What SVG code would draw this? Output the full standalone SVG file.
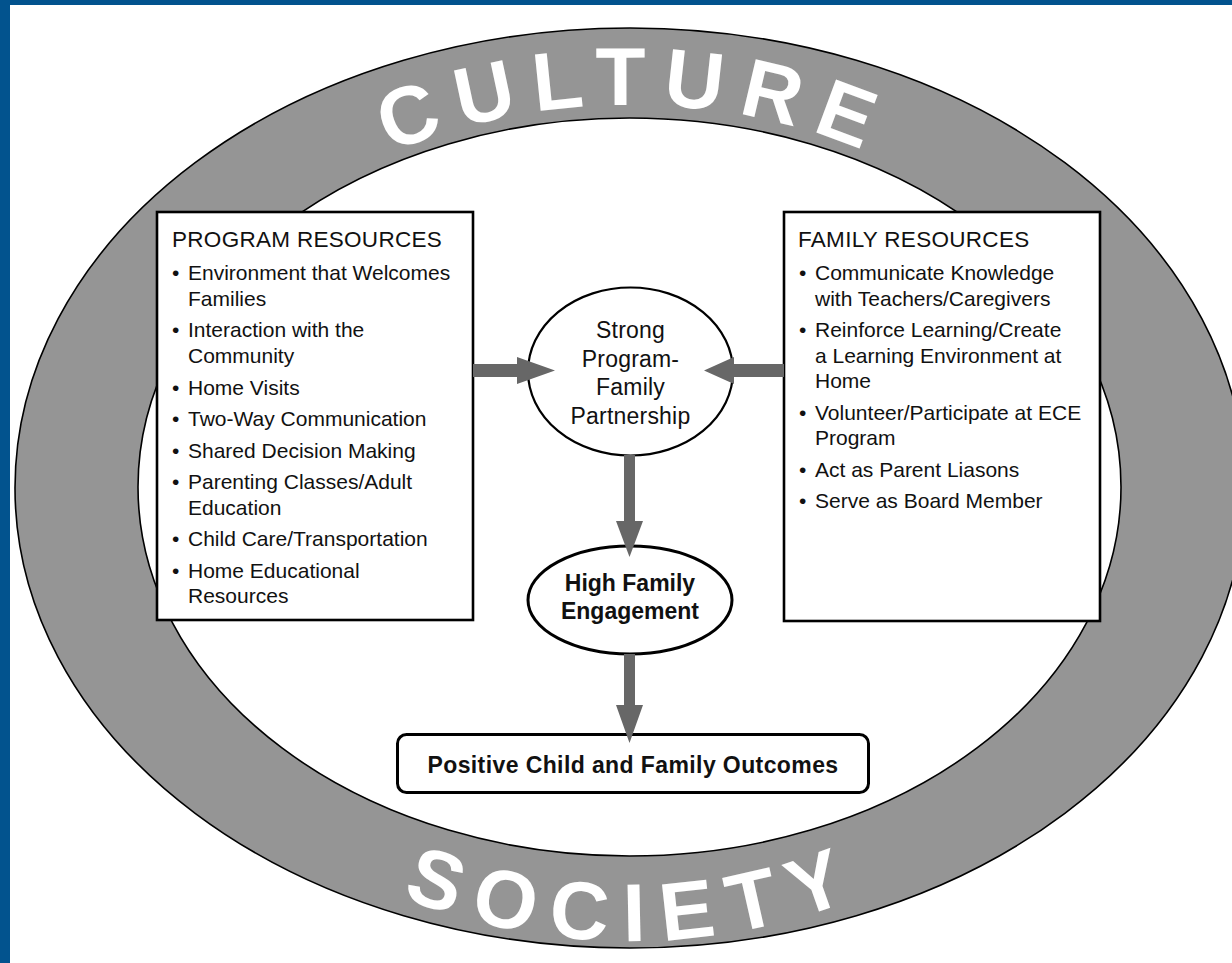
<svg xmlns="http://www.w3.org/2000/svg" width="1232" height="963" viewBox="0 0 1232 963">
<style>
.ring{fill:#959595;stroke:#000;stroke-width:1.6}
.hole{fill:#fff;stroke:#000;stroke-width:1.6}
.box{fill:#fff;stroke:#000;stroke-width:2.6}
.t{font-family:"Liberation Sans",Arial,Helvetica,sans-serif;font-size:21px;fill:#111}
.hd{font-size:22.5px;letter-spacing:0.3px}
.el{font-family:"Liberation Sans",Arial,Helvetica,sans-serif;font-size:23px;fill:#111;text-anchor:middle;letter-spacing:0.2px}
.b{font-family:"Liberation Sans",Arial,Helvetica,sans-serif;font-size:23px;font-weight:bold;fill:#111;text-anchor:middle}
.big{font-family:"Liberation Sans",Arial,Helvetica,sans-serif;font-size:82px;font-weight:bold;fill:#fff;letter-spacing:16.5px}
.arr{fill:#676767}
</style>
<defs>
<path id="topArc" d="M135,488 A495,383 0 0 1 1125,488"/>
<path id="botArc" d="M99,488 A531,453 0 0 0 1161,488"/>
</defs>
<rect x="0" y="0" width="1232" height="963" fill="#fff"/>
<rect x="0" y="0" width="1232" height="5" fill="#02538e"/>
<rect x="0" y="0" width="10" height="963" fill="#02538e"/>

<g id="culture-ring">
<ellipse class="ring" cx="630" cy="488" rx="615" ry="460"/>
<ellipse class="hole" cx="629.5" cy="487" rx="491.5" ry="369"/>
<text class="big" dx="4"><textPath href="#topArc" startOffset="50%" text-anchor="middle">CULTURE</textPath></text>
<text class="big" dx="4"><textPath href="#botArc" startOffset="50%" text-anchor="middle">SOCIETY</textPath></text>
</g>

<g id="program-resources">
<rect class="box" x="157" y="212" width="316" height="408"/>
<text class="t hd" x="172" y="247">PROGRAM RESOURCES</text>
<text class="t" x="172" y="280">•</text><text class="t" x="188" y="280">Environment that Welcomes</text>
<text class="t" x="188" y="305.5">Families</text>
<text class="t" x="172" y="337">•</text><text class="t" x="188" y="337">Interaction with the</text>
<text class="t" x="188" y="362.5">Community</text>
<text class="t" x="172" y="394.5">•</text><text class="t" x="188" y="394.5">Home Visits</text>
<text class="t" x="172" y="426">•</text><text class="t" x="188" y="426">Two-Way Communication</text>
<text class="t" x="172" y="457.5">•</text><text class="t" x="188" y="457.5">Shared Decision Making</text>
<text class="t" x="172" y="489">•</text><text class="t" x="188" y="489">Parenting Classes/Adult</text>
<text class="t" x="188" y="514.5">Education</text>
<text class="t" x="172" y="546">•</text><text class="t" x="188" y="546">Child Care/Transportation</text>
<text class="t" x="172" y="577.5">•</text><text class="t" x="188" y="577.5">Home Educational</text>
<text class="t" x="188" y="603">Resources</text>
</g>

<g id="family-resources">
<rect class="box" x="784" y="212" width="316" height="409"/>
<text class="t hd" x="798" y="247">FAMILY RESOURCES</text>
<text class="t" x="799" y="280">•</text><text class="t" x="815" y="280">Communicate Knowledge</text>
<text class="t" x="815" y="305.5">with Teachers/Caregivers</text>
<text class="t" x="799" y="337">•</text><text class="t" x="815" y="337">Reinforce Learning/Create</text>
<text class="t" x="815" y="362.5">a Learning Environment at</text>
<text class="t" x="815" y="388">Home</text>
<text class="t" x="799" y="419.5">•</text><text class="t" x="815" y="419.5">Volunteer/Participate at ECE</text>
<text class="t" x="815" y="445">Program</text>
<text class="t" x="799" y="476.5">•</text><text class="t" x="815" y="476.5">Act as Parent Liasons</text>
<text class="t" x="799" y="508">•</text><text class="t" x="815" y="508">Serve as Board Member</text>
</g>

<g id="partnership">
<ellipse cx="630.5" cy="371.5" rx="102.5" ry="84" fill="#fff" stroke="#000" stroke-width="2.2"/>
<text class="el" x="630.5" y="338">Strong</text>
<text class="el" x="630.5" y="366.5">Program-</text>
<text class="el" x="630.5" y="395">Family</text>
<text class="el" x="630.5" y="423.5">Partnership</text>
</g>

<g id="engagement">
<ellipse cx="630" cy="600" rx="102" ry="54" fill="#fff" stroke="#000" stroke-width="3"/>
<text class="b" x="630" y="590.5">High Family</text>
<text class="b" x="630" y="619">Engagement</text>
</g>

<g id="outcomes">
<rect x="397.5" y="734.5" width="471" height="58" rx="9" fill="#fff" stroke="#000" stroke-width="3"/>
<text class="b" x="633" y="772.5" style="letter-spacing:0.4px">Positive Child and Family Outcomes</text>
</g>

<g id="connectors">
<path class="arr" d="M473,364 H517 V357 L555,370.5 L517,384 V377 H473 Z"/>
<path class="arr" d="M784,364 H734 V357 L704,370.5 L734,384 V377 H784 Z"/>
<path class="arr" d="M624,455 H635 V521 H643 L629.5,557 L616,521 H624 Z"/>
<path class="arr" d="M624,654 H635 V705 H643 L629.5,743 L616,705 H624 Z"/>
</g>
</svg>
